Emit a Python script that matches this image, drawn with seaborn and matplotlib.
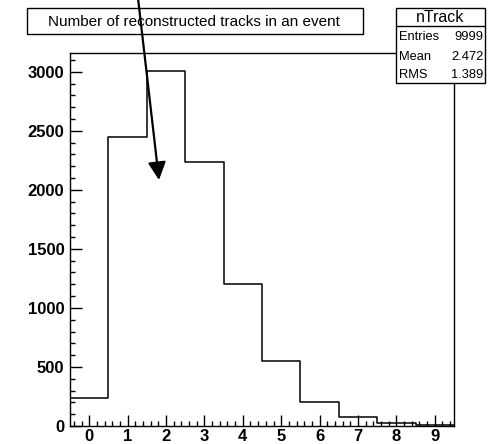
import numpy as np
import pandas as pd
import matplotlib
matplotlib.use("Agg")
import matplotlib.pyplot as plt
from matplotlib.patches import Rectangle, FancyArrowPatch
from matplotlib.lines import Line2D
from matplotlib.ticker import MultipleLocator
import seaborn as sns

# ---- data ----
track_bins = [0, 1, 2, 3, 4, 5, 6, 7, 8, 9]
counts = [235, 2450, 3008, 2238, 1203, 552, 206, 76, 23, 8]
title_text = "Number of reconstructed tracks in an event"
stats_name = "nTrack"
stats_labels = ["Entries", "Mean", "RMS"]
stats_values = ["9999", "2.472", "1.389"]

df = pd.DataFrame({"nTrack": track_bins, "count": counts})

sns.set_theme(style="ticks")
plt.rcParams['font.family'] = ['Liberation Sans', 'DejaVu Sans']

W, H = 493, 444
fig = plt.figure(figsize=(W / 100, H / 100), dpi=100)
fig.patch.set_facecolor("white")

def fx(px):
    return px / W

def fy(py):
    return 1 - py / H

ax = fig.add_axes([fx(70), fy(426), (454 - 70) / W, (426 - 53) / H])
ax.set_facecolor("white")

sns.histplot(data=df, x="nTrack", weights="count", discrete=True,
             element="step", fill=False, color="black", linewidth=1.1, ax=ax)

ax.set_xlim(-0.5, 9.5)
ax.set_ylim(0, 1.05 * max(counts))
ax.set_xlabel("")
ax.set_ylabel("")
ax.set_xticks(track_bins)
ax.xaxis.set_minor_locator(MultipleLocator(0.2))
ax.yaxis.set_major_locator(MultipleLocator(500))
ax.yaxis.set_minor_locator(MultipleLocator(100))
ax.tick_params(which="both", direction="in", colors="black", width=1,
               top=False, right=False)
ax.tick_params(axis="x", which="major", length=8, pad=2.5, labelsize=12)
ax.tick_params(axis="y", which="major", length=8.5, pad=4.0, labelsize=12)
ax.tick_params(which="minor", length=3.6)
for lab in ax.get_xticklabels() + ax.get_yticklabels():
    lab.set_fontweight("bold")
for sp in ax.spines.values():
    sp.set_visible(True)
    sp.set_color("black")
    sp.set_linewidth(1.0)

# title box
fig.patches.append(Rectangle((fx(27), fy(34)), (363 - 27) / W, (34 - 8) / H,
                             transform=fig.transFigure, facecolor="white",
                             edgecolor="black", linewidth=1.0, zorder=5))
fig.text(fx(194), fy(21.5), title_text, ha="center", va="center",
         fontsize=11, color="black", zorder=6)

# stats box
fig.patches.append(Rectangle((fx(396), fy(83)), (485 - 396) / W, (83 - 8) / H,
                             transform=fig.transFigure, facecolor="white",
                             edgecolor="black", linewidth=1.0, zorder=5))
fig.add_artist(Line2D([fx(396), fx(485)], [fy(26), fy(26)],
                      transform=fig.transFigure, color="black", linewidth=1.0,
                      zorder=6))
fig.text(fx(440.5), fy(17.5), stats_name, ha="center", va="center",
         fontsize=11.5, color="black", zorder=7)
row_y = [37, 56.5, 75]
for lab, val, yy in zip(stats_labels, stats_values, row_y):
    fig.text(fx(398.5), fy(yy), lab, ha="left", va="center", fontsize=9.3,
             color="black", zorder=7)
    fig.text(fx(483.5), fy(yy), val, ha="right", va="center", fontsize=9.3,
             color="black", zorder=7)

# arrow
arrow = FancyArrowPatch((fx(138), fy(-2)), (fx(159), fy(180)),
                        transform=fig.transFigure,
                        arrowstyle="-|>,head_length=0.9,head_width=0.45",
                        mutation_scale=12, color="black", linewidth=1.6,
                        shrinkA=0, shrinkB=0, zorder=10)
fig.add_artist(arrow)

fig.savefig("out.png", dpi=100, facecolor="white")
